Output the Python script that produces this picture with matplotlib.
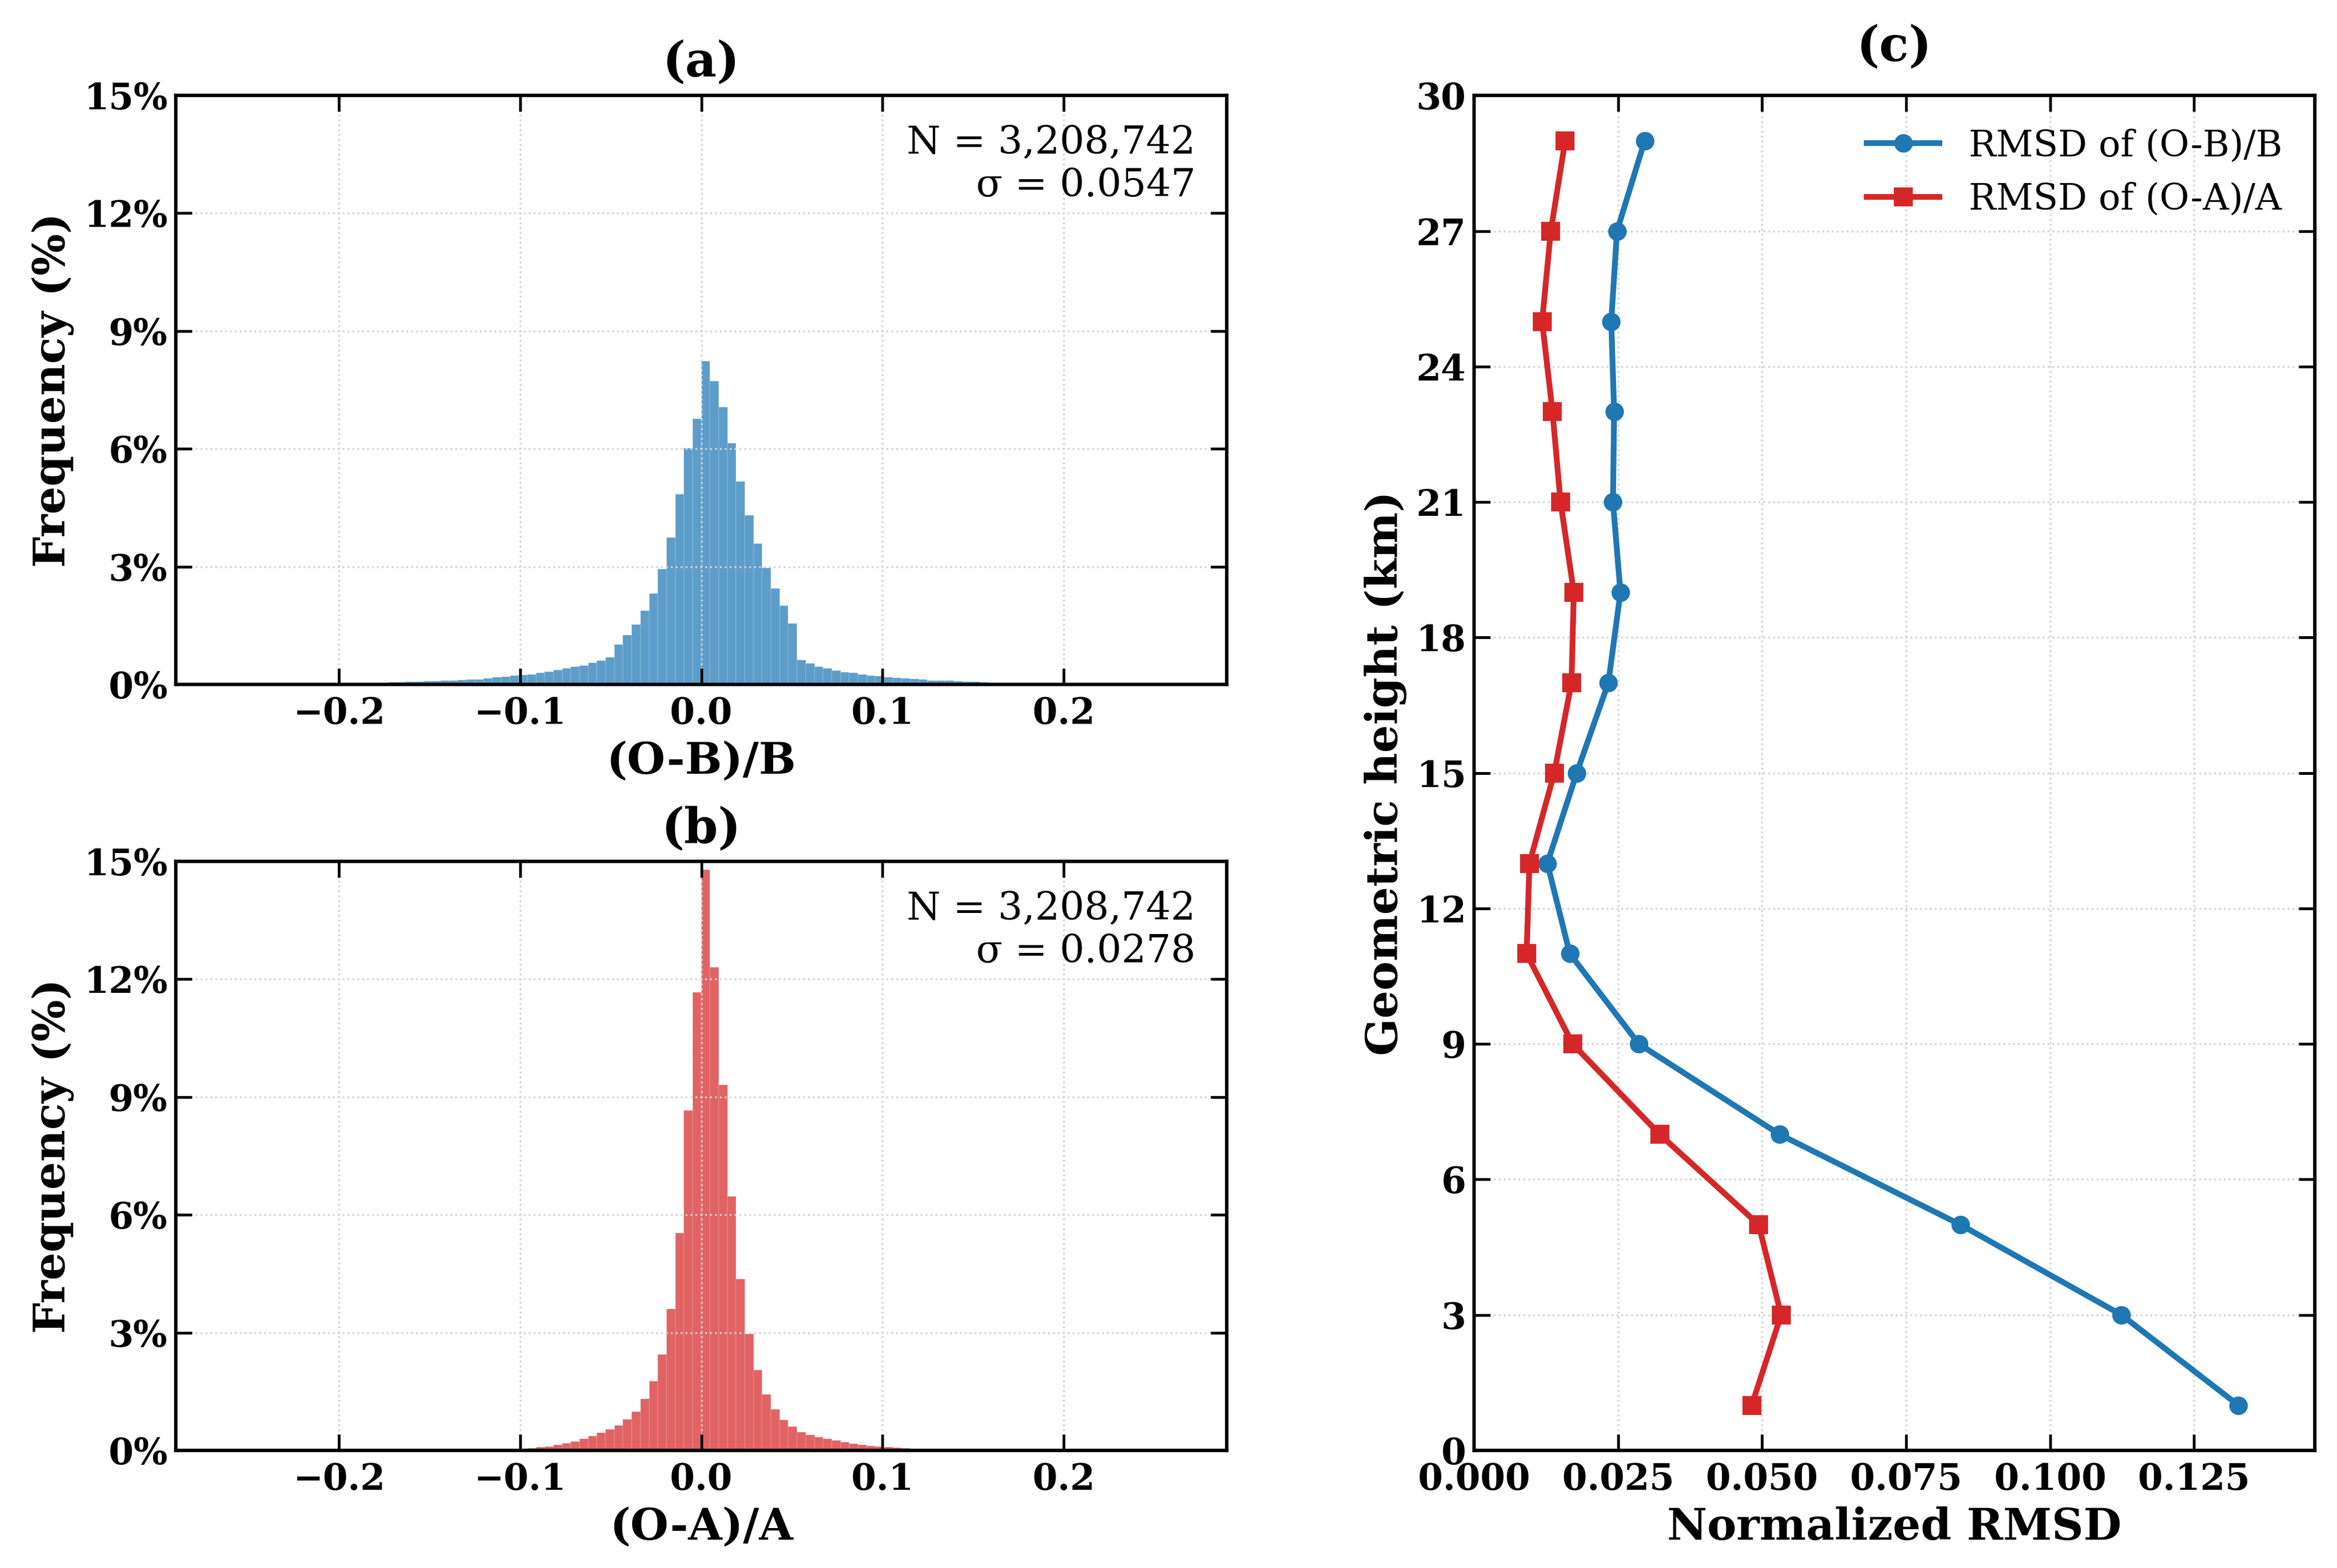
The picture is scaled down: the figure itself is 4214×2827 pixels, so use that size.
import numpy as np
import matplotlib
matplotlib.use('Agg')
import matplotlib.pyplot as plt
from matplotlib.ticker import MultipleLocator, FuncFormatter

# ---- data ----
bin_width = 0.0048
first_edge_ob = -0.2112
first_edge_oa = -0.1248

# percentage of samples per bin, (O-B)/B
freq_ob = [0.010, 0.013, 0.017, 0.022, 0.028, 0.034, 0.040, 0.047, 0.053, 0.060,
           0.066, 0.073, 0.080, 0.088, 0.095, 0.100, 0.110, 0.120, 0.130, 0.150,
           0.180, 0.200, 0.220, 0.240, 0.260, 0.290, 0.330, 0.360, 0.410, 0.450,
           0.480, 0.550, 0.610, 0.690, 1.020, 1.260, 1.530, 1.880, 2.320, 2.940,
           3.740, 4.840, 6.010, 6.760,
           8.240, 7.730, 7.060, 6.150, 5.170, 4.310, 3.590, 2.960, 2.440, 2.010,
           1.560, 0.620, 0.530, 0.450, 0.410, 0.350, 0.310, 0.290, 0.260, 0.230,
           0.210, 0.190, 0.170, 0.150, 0.140, 0.120, 0.105, 0.100, 0.100, 0.080,
           0.070, 0.067, 0.057, 0.048, 0.043, 0.043, 0.034, 0.028, 0.024, 0.019,
           0.015, 0.013, 0.010, 0.009, 0.008, 0.007, 0.006, 0.005]

# percentage of samples per bin, (O-A)/A
freq_oa = [0.006, 0.010, 0.015, 0.020, 0.028, 0.040, 0.060, 0.080, 0.100, 0.140,
           0.180, 0.230, 0.290, 0.360, 0.450, 0.540, 0.640, 0.790, 0.990, 1.310,
           1.760, 2.440, 3.600, 5.530, 8.660, 11.66,
           14.78, 12.30, 9.310, 6.470, 4.360, 2.970, 2.050, 1.430, 1.040, 0.770,
           0.600, 0.470, 0.400, 0.340, 0.290, 0.250, 0.210, 0.170, 0.140, 0.115,
           0.095, 0.078, 0.064, 0.055, 0.042, 0.035, 0.026, 0.020, 0.015, 0.012,
           0.009, 0.006]

n_obs = '3,208,742'
sigma_ob = 0.0547
sigma_oa = 0.0278

heights = [1, 3, 5, 7, 9, 11, 13, 15, 17, 19, 21, 23, 25, 27, 29]
rmsd_ob = [0.1327, 0.1124, 0.0844, 0.0530, 0.0286, 0.0166, 0.0127, 0.0178,
           0.0233, 0.0254, 0.0241, 0.0243, 0.0238, 0.0248, 0.0296]
rmsd_oa = [0.0482, 0.0533, 0.0494, 0.0322, 0.0171, 0.0091, 0.0096, 0.0139,
           0.0169, 0.0173, 0.0150, 0.0136, 0.0118, 0.0133, 0.0158]

# ---- style ----
plt.rcParams['font.family'] = ['DejaVu Serif']
plt.rcParams['font.weight'] = 'bold'
plt.rcParams['axes.labelweight'] = 'bold'
plt.rcParams['axes.titleweight'] = 'bold'

BLUE = '#1f77b4'
RED = '#d62728'


def style(ax):
    ax.tick_params(direction='in', top=True, right=True, length=7, width=1.2,
                   labelsize=15.5)
    ax.tick_params(axis='x', pad=5)
    for s in ax.spines.values():
        s.set_linewidth(1.5)
    ax.grid(True, linestyle=':', color='lightgray', linewidth=0.8)


def histogram(ax, freq, first_edge, color, xlabel, title, sigma):
    edges = first_edge + bin_width * np.arange(len(freq) + 1)
    ax.hist(edges[:-1], bins=edges, weights=freq, color=color, alpha=0.72,
            edgecolor='white', linewidth=0.08)
    ax.set_xlim(-0.29, 0.29)
    ax.set_ylim(0, 15)
    ax.xaxis.set_major_locator(MultipleLocator(0.1))
    ax.yaxis.set_major_locator(MultipleLocator(3))
    ax.yaxis.set_major_formatter(FuncFormatter(lambda v, p: '%d%%' % v))
    ax.set_xlabel(xlabel, fontsize=19)
    ax.set_ylabel('Frequency (%)', fontsize=19)
    ax.set_title(title, fontsize=21, pad=8)
    ax.text(0.97, 0.95, 'N = %s\nσ = %.4f' % (n_obs, sigma),
            transform=ax.transAxes, ha='right', va='top', fontsize=16.8,
            fontweight='normal')
    style(ax)


fig = plt.figure(figsize=(4214 / 300, 2827 / 300), dpi=300)
ax_a = fig.add_axes([0.0752, 0.5635, 0.4498, 0.3757])
ax_b = fig.add_axes([0.0752, 0.0750, 0.4498, 0.3757])
ax_c = fig.add_axes([0.6308, 0.0750, 0.3597, 0.8640])

histogram(ax_a, freq_ob, first_edge_ob, BLUE, '(O-B)/B', '(a)', sigma_ob)
histogram(ax_b, freq_oa, first_edge_oa, RED, '(O-A)/A', '(b)', sigma_oa)

ax_c.plot(rmsd_ob, heights, '-o', color=BLUE, lw=2.5, ms=7,
          label='RMSD of (O-B)/B')
ax_c.plot(rmsd_oa, heights, '-s', color=RED, lw=2.5, ms=7,
          label='RMSD of (O-A)/A')
ax_c.set_xlim(0, max(rmsd_ob) * 1.1)
ax_c.set_ylim(0, 30)
ax_c.xaxis.set_major_locator(MultipleLocator(0.025))
ax_c.xaxis.set_major_formatter(FuncFormatter(lambda v, p: '%.3f' % v))
ax_c.yaxis.set_major_locator(MultipleLocator(3))
ax_c.set_xlabel('Normalized RMSD', fontsize=19)
ax_c.set_ylabel('Geometric height (km)', fontsize=19)
ax_c.set_title('(c)', fontsize=21, pad=15)
ax_c.legend(loc='upper right', frameon=False,
            prop={'family': 'DejaVu Serif', 'weight': 'normal', 'size': 15.7})
style(ax_c)

fig.savefig('out.png', dpi=300)
